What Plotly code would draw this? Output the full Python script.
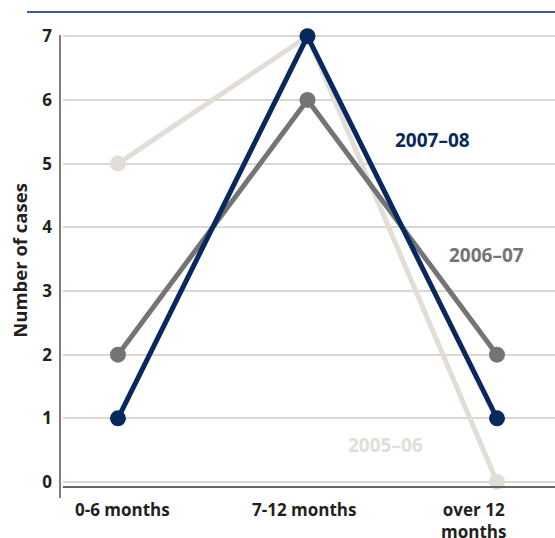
import plotly.graph_objects as go

categories = ["0-6 months", "7-12 months", "over 12 months"]
tick_labels = ["0-6 months", "7-12 months", "over 12<br>months"]
series_names = ["2005–06", "2006–07", "2007–08"]
values_2005_06 = [5, 7, 0]
values_2006_07 = [2, 6, 2]
values_2007_08 = [1, 7, 1]
y_ticks = [0, 1, 2, 3, 4, 5, 6, 7]

colors = {"2005–06": "#e2ddd7", "2006–07": "#747474", "2007–08": "#07295d"}
series = {"2005–06": values_2005_06, "2006–07": values_2006_07, "2007–08": values_2007_08}

FONT = "Open Sans"
WGT = 700
fig = go.Figure()
for name in series_names:
    fig.add_trace(go.Scatter(
        x=categories, y=series[name], mode="lines+markers", name=name,
        line=dict(color=colors[name], width=5),
        marker=dict(color=colors[name], size=16),
        cliponaxis=False, showlegend=False,
    ))

W, H = 555, 538
L, R, T, B = 63, 0, 35, 52
pw, ph = W - L - R, H - T - B

# series labels
label_pos = {"2007–08": (432, 140), "2006–07": (486, 255), "2005–06": (385, 445)}
for name, (px, py) in label_pos.items():
    fig.add_annotation(x=(px - L) / pw, y=1 - (py - T) / ph, xref="paper", yref="paper",
                       text=name, showarrow=False, xanchor="center", yanchor="middle",
                       font=dict(family=FONT, size=19, color=colors[name], weight=WGT))

# x tick labels
shifts = [5, -3, -24]
for cat, lab, sh in zip(categories, tick_labels, shifts):
    fig.add_annotation(x=cat, y=0, xref="x", yref="paper", text=lab, showarrow=False,
                       xanchor="center", yanchor="top", xshift=sh, yshift=-10,
                       font=dict(family=FONT, size=17, color="#231f20", weight=WGT))

# y axis line extending below x axis
fig.add_shape(type="line", xref="paper", yref="paper",
              x0=-3 / pw, x1=-3 / pw, y0=-12 / ph, y1=1,
              line=dict(color="#555555", width=1.5))
# top rule
fig.add_shape(type="line", xref="paper", yref="paper",
              x0=(27 - L) / pw, x1=1, y0=1 + (T - 12) / ph, y1=1 + (T - 12) / ph,
              line=dict(color="#3a5e92", width=2))

fig.update_layout(
    width=W, height=H, margin=dict(l=L, r=R, t=T, b=B, autoexpand=False),
    plot_bgcolor="white", paper_bgcolor="white",
    font=dict(family=FONT, color="#231f20"),
    xaxis=dict(type="category", range=[-0.29, 2.306], showgrid=False,
               showticklabels=False, ticks="", showline=True, automargin=False,
               linecolor="#666666", linewidth=2, zeroline=False, fixedrange=True),
    yaxis=dict(range=[-0.063, 7.02], tickvals=y_ticks, showgrid=True, automargin=False,
               gridcolor="#ddd7cf", gridwidth=1.5, zeroline=False, showline=False,
               ticks="", ticklabelstandoff=10,
               tickfont=dict(family=FONT, size=17, color="#231f20", weight=WGT),
               title=dict(text="Number of cases", standoff=9,
                          font=dict(family=FONT, size=18.5, color="#231f20", weight=WGT))),
)
fig.write_html("out.html", config={"displayModeBar": False},
               post_script="document.body.style.margin='0px';document.body.style.overflow='hidden';")
